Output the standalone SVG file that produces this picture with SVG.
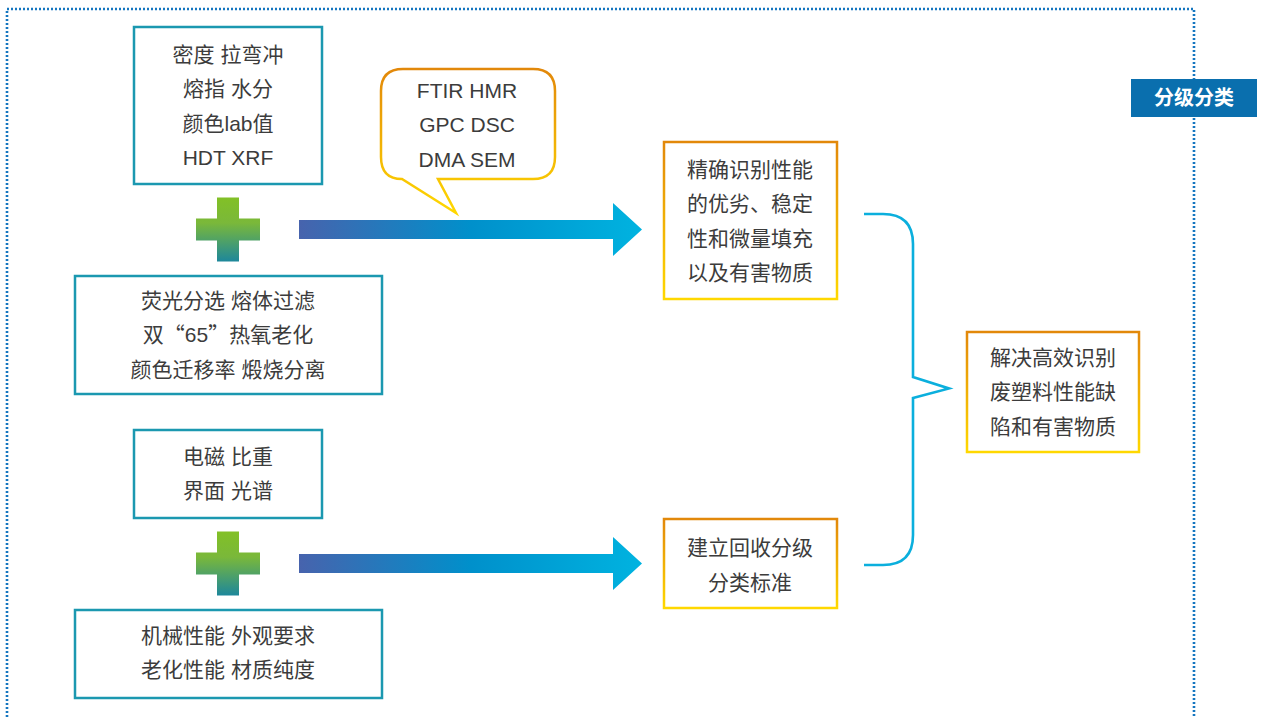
<svg xmlns="http://www.w3.org/2000/svg" width="1263" height="717" viewBox="0 0 1263 717">
<defs>
<style>
.t{font-family:"Liberation Sans","Noto Sans CJK SC",sans-serif;font-size:21px;fill:#3c3c3c;text-anchor:middle}
.q{font-family:"Noto Sans CJK SC",sans-serif;font-feature-settings:"fwid" 1}
.teal{fill:#fff;stroke:#1b98b0;stroke-width:2.5}
.org{fill:#fff;stroke:url(#og);stroke-width:2.5}
</style>
<linearGradient id="og" x1="0" y1="0" x2="0" y2="1">
<stop offset="0" stop-color="#e2880a"/><stop offset="1" stop-color="#ffd800"/>
</linearGradient>
<linearGradient id="pg" x1="0" y1="0" x2="0" y2="1">
<stop offset="0" stop-color="#82c026"/><stop offset="0.4" stop-color="#7ab83a"/><stop offset="1" stop-color="#1d879b"/>
</linearGradient>
<linearGradient id="ag" x1="0" y1="0" x2="1" y2="0">
<stop offset="0" stop-color="#4763ad"/><stop offset="0.5" stop-color="#0090cb"/><stop offset="1" stop-color="#00b3e0"/>
</linearGradient>
<path id="plus" d="M-11,-32 H11 V-11 H32 V11 H11 V32 H-11 V11 H-32 V-11 H-11 Z"/>
</defs>
<path d="M7,717 V9 H1194 V717" fill="none" stroke="#1476c0" stroke-width="2.6" stroke-dasharray="2 2"/>
<g id="label">
<rect x="1131" y="79" width="126" height="38" fill="#0a6fae"/>
<text x="1194" y="105" style="font-family:'Liberation Sans','Noto Sans CJK SC',sans-serif;font-size:20px;font-weight:bold;fill:#fff;text-anchor:middle">分级分类</text>
</g>
<g id="box1">
<rect class="teal" x="134" y="27" width="188" height="157"/>
<text class="t" x="228" y="61.5">密度 拉弯冲</text>
<text class="t" x="228" y="96">熔指 水分</text>
<text class="t" x="228" y="130.5">颜色lab值</text>
<text class="t" x="228" y="165">HDT XRF</text>
</g>
<g id="plus1"><use href="#plus" x="228" y="229.5" fill="url(#pg)"/></g>
<g id="box2">
<rect class="teal" x="75" y="276" width="307" height="118"/>
<text class="t" x="228" y="307.5">荧光分选 熔体过滤</text>
<text class="t" x="228" y="342">双<tspan class="q">“</tspan>65<tspan class="q">”</tspan>热氧老化</text>
<text class="t" x="228" y="376.5">颜色迁移率 煅烧分离</text>
</g>
<g id="box3">
<rect class="teal" x="134" y="430" width="188" height="88"/>
<text class="t" x="228" y="463.5">电磁 比重</text>
<text class="t" x="228" y="498">界面 光谱</text>
</g>
<g id="plus2"><use href="#plus" x="228" y="563.5" fill="url(#pg)"/></g>
<g id="box4">
<rect class="teal" x="75" y="610" width="307" height="88"/>
<text class="t" x="228" y="642.5">机械性能 外观要求</text>
<text class="t" x="228" y="677">老化性能 材质纯度</text>
</g>
<g id="bubble">
<path class="org" stroke-width="2" d="M403,69 H533 Q555,69 555,91 V157 Q555,179 533,179 H438 L456,213 L402,179 Q381,179 381,157 V91 Q381,69 403,69 Z"/>
<text class="t" x="467" y="97.5">FTIR HMR</text>
<text class="t" x="467" y="132">GPC DSC</text>
<text class="t" x="467" y="166.5">DMA SEM</text>
</g>
<g id="box5">
<rect class="org" x="664" y="142" width="173" height="157"/>
<text class="t" x="750" y="176.5">精确识别性能</text>
<text class="t" x="750" y="211">的优劣、稳定</text>
<text class="t" x="750" y="245.5">性和微量填充</text>
<text class="t" x="750" y="280">以及有害物质</text>
</g>
<g id="box6">
<rect class="org" x="664" y="519" width="173" height="89"/>
<text class="t" x="750" y="555">建立回收分级</text>
<text class="t" x="750" y="589.5">分类标准</text>
</g>
<g id="box7">
<rect class="org" x="967" y="332" width="172" height="120"/>
<text class="t" x="1053" y="364.5">解决高效识别</text>
<text class="t" x="1053" y="399">废塑料性能缺</text>
<text class="t" x="1053" y="433.5">陷和有害物质</text>
</g>
<g id="connectors">
<path d="M299,220 H613 V203 L642,229.5 L613,256 V239 H299 Z" fill="url(#ag)"/>
<path d="M299,554 H613 V537 L642,563.5 L613,590 V573 H299 Z" fill="url(#ag)"/>
<path d="M864,214 H883 Q913,214 913,244 V377 L949,388.5 L913,398 V535 Q913,565 883,565 H864" fill="none" stroke="#0bafdd" stroke-width="2.6"/>
</g>
</svg>
